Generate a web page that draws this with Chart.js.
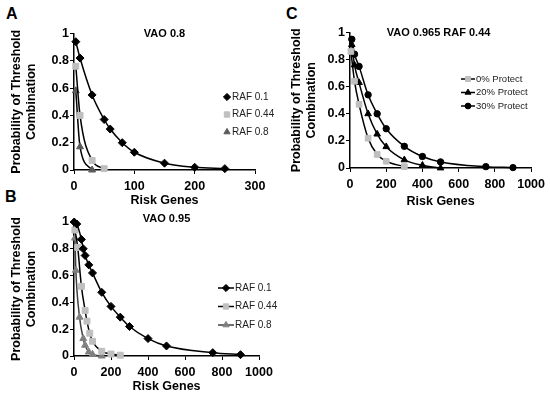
<!DOCTYPE html>
<html><head><meta charset="utf-8">
<script src="https://cdn.jsdelivr.net/npm/chart.js@4"></script>
<style>
html,body{margin:0;padding:0;background:#fff;}
body{width:550px;height:398px;position:relative;overflow:hidden;font-family:"Liberation Sans",Arial,sans-serif;}
.wrap{position:absolute;}
.letter{position:absolute;font-weight:bold;font-size:16px;line-height:16px;color:#000;}
canvas{display:block;}
</style></head><body>
<div class="letter" style="left:6px;top:6px">A</div>
<div class="letter" style="left:5px;top:189px">B</div>
<div class="letter" style="left:286px;top:6px">C</div>
<div class="wrap" style="left:0;top:0;"><canvas id="cA" width="280" height="208"></canvas></div>
<div class="wrap" style="left:0;top:208px;"><canvas id="cB" width="280" height="190"></canvas></div>
<div class="wrap" style="left:280px;top:0;"><canvas id="cC" width="270" height="210"></canvas></div>
<script>
// ---------- DATA ----------
// Panel A : VAO 0.8
const aTitle = 'VAO 0.8';
const aGenesRaf01 = [3, 10, 30, 50, 60, 80, 100, 150, 200, 250];
const aProbRaf01  = [0.94, 0.82, 0.55, 0.37, 0.30, 0.20, 0.13, 0.05, 0.02, 0.01];
const aGenesRaf044 = [3, 10, 30, 50];
const aProbRaf044  = [0.76, 0.40, 0.07, 0.01];
const aGenesRaf08 = [3, 10, 30];
const aProbRaf08  = [0.58, 0.17, 0.0];
const aXTicks = [0, 100, 200, 300];

// Panel B : VAO 0.95
const bTitle = 'VAO 0.95';
const bGenesRaf01 = [1, 15, 40, 50, 60, 80, 100, 150, 200, 250, 300, 400, 500, 750, 900];
const bProbRaf01  = [1.0, 0.985, 0.87, 0.80, 0.75, 0.68, 0.62, 0.475, 0.37, 0.29, 0.22, 0.13, 0.075, 0.025, 0.01];
const bGenesRaf044 = [5, 20, 40, 60, 70, 85, 100, 150, 200, 250];
const bProbRaf044  = [0.94, 0.81, 0.52, 0.34, 0.26, 0.17, 0.11, 0.035, 0.015, 0.006];
const bGenesRaf08 = [5, 10, 30, 50, 60, 80, 100, 150];
const bProbRaf08  = [0.88, 0.64, 0.29, 0.13, 0.08, 0.03, 0.012, 0.0];
const bXTicks = [0, 200, 400, 600, 800, 1000];

// Panel C : VAO 0.965 RAF 0.44
const cTitle = 'VAO 0.965 RAF 0.44';
const cGenesP0 = [5, 25, 50, 100, 150, 200, 300];
const cProbP0  = [0.86, 0.64, 0.47, 0.22, 0.10, 0.05, 0.01];
const cGenesP20 = [10, 25, 50, 100, 150, 200, 300, 400, 500];
const cProbP20  = [0.91, 0.76, 0.63, 0.40, 0.25, 0.157, 0.06, 0.02, 0.0];
const cGenesP30 = [10, 25, 50, 100, 150, 200, 300, 400, 500, 750, 900];
const cProbP30  = [0.95, 0.84, 0.75, 0.54, 0.40, 0.29, 0.16, 0.085, 0.045, 0.01, 0.003];
const cXTicks = [0, 200, 400, 600, 800, 1000];

const yTicks = [0, 0.2, 0.4, 0.6, 0.8, 1];
const xAxisTitle = 'Risk Genes';
const yAxisTitle = ['Probability of Threshold', 'Combination'];
// ---------- END DATA ----------

const FONT = '"Liberation Sans", Arial, sans-serif';
const pts = (xs, ys) => xs.map((x, i) => ({x: x, y: ys[i]}));

const panelTitle = {
  id: 'panelTitle',
  afterDraw(chart, args, o) {
    const {ctx, chartArea} = chart;
    ctx.save();
    ctx.font = 'bold ' + o.size + 'px ' + FONT;
    ctx.fillStyle = '#000';
    ctx.textAlign = 'center';
    ctx.textBaseline = 'middle';
    ctx.fillText(o.text, (chartArea.left + chartArea.right) / 2 + (o.dx || 0), chartArea.top + (o.dy || 0));
    ctx.restore();
  }
};

const markerLegend = {
  id: 'markerLegend',
  afterDraw(chart, args, o) {
    const ctx = chart.ctx;
    ctx.save();
    ctx.font = o.size + 'px ' + FONT;
    ctx.textAlign = 'left';
    ctx.textBaseline = 'middle';
    chart.data.datasets.forEach((ds, i) => {
      const y = o.y + i * o.dy;
      if (o.line) {
        ctx.strokeStyle = ds.borderColor;
        ctx.lineWidth = ds.borderWidth;
        ctx.beginPath();
        ctx.moveTo(o.x - o.line, y);
        ctx.lineTo(o.x + o.line, y);
        ctx.stroke();
      }
      ctx.fillStyle = ds.pointBackgroundColor;
      ctx.strokeStyle = ds.pointBorderColor;
      ctx.lineWidth = 1;
      Chart.helpers.drawPoint(ctx, {pointStyle: ds.pointStyle, radius: ds.pointRadius * 0.9, borderWidth: 1, rotation: 0}, o.x, y);
      ctx.fillStyle = '#222';
      ctx.fillText(ds.label, o.x + o.tx, y);
    });
    ctx.restore();
  }
};

function ds(label, xs, ys, style, radius, fillColor, lineColor) {
  return {
    label: label,
    data: pts(xs, ys),
    borderColor: lineColor,
    borderWidth: 1.5,
    pointStyle: style,
    pointRadius: radius,
    pointHoverRadius: radius,
    pointBackgroundColor: fillColor,
    pointBorderColor: fillColor,
    pointBorderWidth: 1,
    cubicInterpolationMode: 'monotone',
    fill: false,
    clip: false
  };
}

function makeChart(id, datasets, L) {
  return new Chart(document.getElementById(id), {
    type: 'line',
    data: {datasets: datasets},
    plugins: [panelTitle, markerLegend],
    options: {
      responsive: false,
      animation: false,
      events: [],
      layout: {padding: {left: 0, right: L.padR, top: L.padT, bottom: 0}},
      plugins: {
        legend: {display: false},
        tooltip: {enabled: false},
        title: {display: false},
        panelTitle: {text: L.title, size: L.titleSize, dy: L.titleDy, dx: L.titleDx},
        markerLegend: L.legend
      },
      scales: {
        x: {
          type: 'linear',
          min: L.xTicks[0], max: L.xTicks[L.xTicks.length - 1],
          afterFit: s => { s.height = L.xH; },
          afterBuildTicks: s => { s.ticks = L.xTicks.map(v => ({value: v})); },
          grid: {display: true, drawOnChartArea: false, drawTicks: true, tickLength: 4, color: '#000', lineWidth: 1},
          border: {display: true, color: '#000', width: 1.5},
          ticks: {font: {family: FONT, size: L.tickSize, weight: 'bold'}, color: '#000', padding: L.xTickPad, maxRotation: 0, autoSkip: false,
                  callback: v => String(v)},
          title: {display: true, text: xAxisTitle, color: '#000', font: {family: FONT, size: 12.5, weight: 'bold'}, padding: {top: 0, bottom: L.xTitlePad}}
        },
        y: {
          type: 'linear',
          min: 0, max: 1,
          afterFit: s => { s.width = L.yW; },
          afterBuildTicks: s => { s.ticks = yTicks.map(v => ({value: v})); },
          grid: {display: true, drawOnChartArea: false, drawTicks: true, tickLength: 4, color: '#000', lineWidth: 1},
          border: {display: true, color: '#000', width: 1.5},
          ticks: {font: {family: FONT, size: L.tickSize, weight: 'bold'}, color: '#000', padding: 1, autoSkip: false,
                  callback: v => String(Math.round(v * 10) / 10)},
          title: {display: true, text: yAxisTitle, color: '#000', font: {family: FONT, size: 12.5, weight: 'bold', lineHeight: 1.2}, padding: {top: 9, bottom: 0}}
        }
      }
    }
  });
}

const black = '#000000', lightGrey = '#bfbfbf', midGrey = '#808080', darkGrey = '#5a5a5a';

makeChart('cA', [
  ds('RAF 0.1', aGenesRaf01, aProbRaf01, 'rectRot', 4, black, black),
  ds('RAF 0.44', aGenesRaf044, aProbRaf044, 'rect', 4.2, lightGrey, black),
  ds('RAF 0.8', aGenesRaf08, aProbRaf08, 'triangle', 4, darkGrey, black)
], {padR: 25, padT: 33.5, xH: 38, yW: 74, xTicks: aXTicks, tickSize: 12.5, xTickPad: 5, xTitlePad: 0,
    title: aTitle, titleSize: 11, titleDy: 0, titleDx: 0,
    legend: {x: 227, y: 97, dy: 17.5, tx: 5, size: 10, line: 0}});

makeChart('cB', [
  ds('RAF 0.1', bGenesRaf01, bProbRaf01, 'rectRot', 4, black, black),
  ds('RAF 0.44', bGenesRaf044, bProbRaf044, 'rect', 4.2, lightGrey, black),
  ds('RAF 0.8', bGenesRaf08, bProbRaf08, 'triangle', 4, midGrey, '#404040')
], {padR: 21, padT: 14, xH: 42, yW: 74, xTicks: bXTicks, tickSize: 12.5, xTickPad: 5, xTitlePad: 4,
    title: bTitle, titleSize: 11, titleDy: -3, titleDx: 0,
    legend: {x: 226, y: 80, dy: 18.5, tx: 9, size: 10, line: 8}});

makeChart('cC', [
  ds('0% Protect', cGenesP0, cProbP0, 'rect', 4, lightGrey, black),
  ds('20% Protect', cGenesP20, cProbP20, 'triangle', 3.8, black, black),
  ds('30% Protect', cGenesP30, cProbP30, 'circle', 3.2, black, black)
], {padR: 18, padT: 32.5, xH: 42, yW: 70, xTicks: cXTicks, tickSize: 12.5, xTickPad: 5, xTitlePad: 1,
    title: cTitle, titleSize: 11, titleDy: 0, titleDx: -2,
    legend: {x: 188, y: 79, dy: 13.5, tx: 8, size: 9.5, line: 7}});
</script>
</body></html>
